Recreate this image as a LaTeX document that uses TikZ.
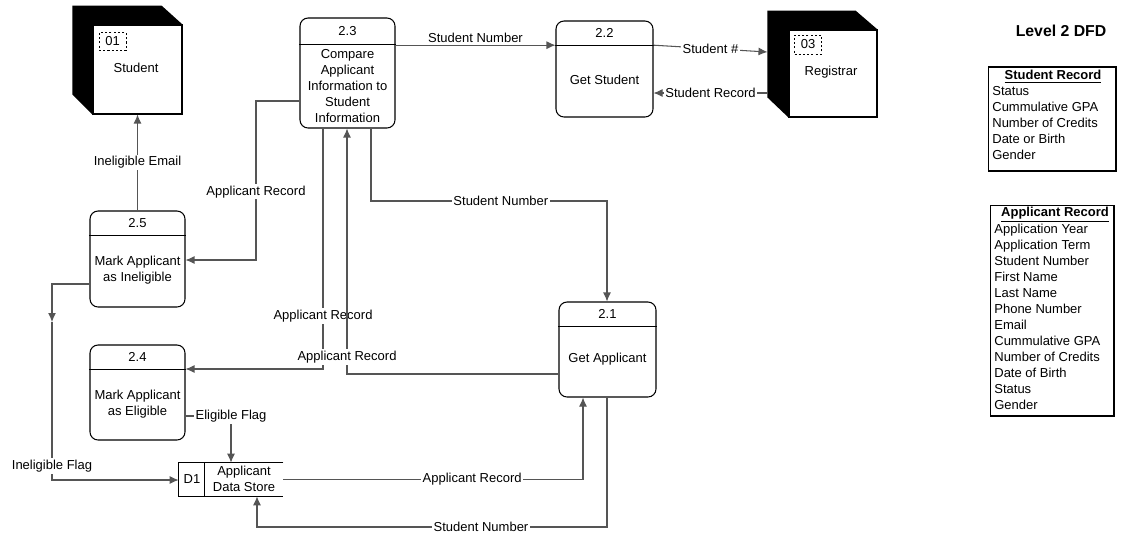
\documentclass[tikz,border=0pt]{standalone}
\usepackage{fontspec}
\setmainfont{Liberation Sans}
\usetikzlibrary{arrows.meta,positioning}
\definecolor{linegray}{RGB}{85,85,85}

\begin{document}
\begin{tikzpicture}[x=0.02cm, y=-0.02cm, >={Latex[length=1.8mm,width=1.6mm]},
	font=\fontsize{7.4}{9.07}\selectfont,
	proc/.style={draw, line width=0.6pt, rounded corners=0.16cm},
	num/.style={minimum height=0.48cm, inner sep=0pt},
	body/.style={align=center, inner sep=0pt},
	flow/.style={->, draw=linegray, line width=0.6pt},
	lbl/.style={fill=white, inner sep=1pt},
	ent/.style={draw, fill=white, line width=0.6pt},
	idbox/.style={draw, dash pattern=on 1.2pt off 1.2pt, line width=0.4pt, inner sep=0pt, minimum width=0.54cm, minimum height=0.35cm},
	legend/.style={draw, line width=0.6pt}]

\useasboundingbox (0,0) rectangle (1124,535);

% external entities
\node[ent, minimum width=1.78cm, minimum height=1.78cm] (stu) at (137.5,69.5) {};
\fill (stu.south west) -- ++(-20,-20) -- ++(0,-89) -- ++(89,0) -- (stu.north east) -- (stu.north west) -- cycle;
\node[idbox] (stuid) at (112.5,41.5) {01};
\node (stuname) at (136,68) {Student};

\node[ent, minimum width=1.76cm, minimum height=1.74cm] (reg) at (833,73.5) {};
\fill (reg.south west) -- ++(-21,-20) -- ++(0,-87) -- ++(88,0) -- (reg.north east) -- (reg.north west) -- cycle;
\coordinate (regback) at ([xshift=-0.42cm]reg.west);
\node[idbox, minimum height=0.38cm] (regid) at (808,44.5) {03};
\node (regname) at (831,72) {Registrar};

% processes
\node[proc, minimum width=1.9cm, minimum height=2.2cm] (p23) at (347.5,73) {};
\node[num, minimum height=0.52cm, below=0pt of p23.north] (p23n) {2.3};
\draw[line width=0.6pt] (p23.west |- p23n.south) -- (p23.east |- p23n.south);
\node[body] (p23t) at (347.5,86) {Compare\\Applicant\\Information to\\Student\\Information};

\node[proc, minimum width=1.94cm, minimum height=1.92cm] (p22) at (604.5,69) {};
\node[num, below=0pt of p22.north] (p22n) {2.2};
\draw[line width=0.6pt] (p22.west |- p22n.south) -- (p22.east |- p22n.south);
\node[body] (p22t) at (604.5,80) {Get Student};

\node[proc, minimum width=1.9cm, minimum height=1.92cm] (p25) at (137.5,259) {};
\node[num, below=0pt of p25.north] (p25n) {2.5};
\draw[line width=0.6pt] (p25.west |- p25n.south) -- (p25.east |- p25n.south);
\node[body] (p25t) at (137.5,270) {Mark Applicant\\as Ineligible};

\node[proc, minimum width=1.9cm, minimum height=1.9cm] (p24) at (137.5,392.5) {};
\node[num, below=0pt of p24.north] (p24n) {2.4};
\draw[line width=0.6pt] (p24.west |- p24n.south) -- (p24.east |- p24n.south);
\node[body] (p24t) at (137.5,404) {Mark Applicant\\as Eligible};

\node[proc, minimum width=1.94cm, minimum height=1.9cm] (p21) at (607.5,349.5) {};
\node[num, below=0pt of p21.north] (p21n) {2.1};
\draw[line width=0.6pt] (p21.west |- p21n.south) -- (p21.east |- p21n.south);
\node[body] (p21t) at (607.5,359) {Get Applicant};

% data store
\node[minimum width=2.08cm, minimum height=0.66cm, inner sep=0pt] (d1) at (231,479.5) {};
\draw[line width=0.6pt] (d1.north east) -- (d1.north west) -- (d1.south west) -- (d1.south east);
\draw[line width=0.6pt] ([xshift=0.52cm]d1.north west) -- ([xshift=0.52cm]d1.south west);
\node (d1id) at (192,479) {D1};
\node[body] (d1t) at (244,479) {Applicant\\Data Store};

% data flows
\draw[flow] (p23.east |- p22n.south) -- node[above, inner sep=1pt] (f1) {Student Number} (p22.west |- p22n.south);
\draw[flow] (p22.east |- p22n.south) -- node[lbl] (f2) {Student \#} (regback |- 0,52);
\draw[flow] (regback |- 0,93) -- node[lbl] (f3) {Student Record} (p22.east |- 0,93);
\draw[flow] (p23.west |- 0,101) -- (256,101) -- node[lbl, pos=0.57] (f4) {Applicant Record} (256,260) -- (p25.east |- 0,260);
\draw[flow] (p25.north) -- node[lbl] (f5) {Ineligible Email} (stu.south);
\draw[flow] (p25.west |- 0,284) -- (52,284) -- (52,322);
\draw[flow] (52,322) -- node[lbl, pos=0.91] (f6) {Ineligible Flag} (52,480) -- (d1.west |- 0,480);
\draw[flow] (p23.south -| 323,0) -- node[lbl, pos=0.78] (f7) {Applicant Record} (323,369) -- (p24.east |- 0,369);
\draw[flow] (p21.west |- 0,374) -- (347,374) -- node[lbl, pos=0.07] (f8) {Applicant Record} (p23.south -| 347,0);
\draw[flow] (p23.south -| 371,0) -- (371,201) -- node[lbl, pos=0.55] (f9) {Student Number} (607,201) -- (p21.north -| 607,0);
\draw[flow] (p24.east |- 0,416) -- node[lbl, pos=1] (f10) {Eligible Flag} (231,416) -- (d1.north);
\draw[flow] (d1.east) -- node[lbl, pos=0.63] (f11) {Applicant Record} (583,479.5) -- (p21.south -| 583,0);
\draw[flow] (p21.south -| 607,0) -- (607,527) -- node[lbl, pos=0.36] (f12) {Student Number} (257,527) -- (d1.south -| 257,0);

% title and data dictionary
\node[font=\fontsize{9}{11}\selectfont\bfseries] (title) at (1061,31) {Level 2 DFD};

\node[legend, minimum width=2.56cm, minimum height=2.08cm] (srbox) at (1052,119) {};
\node (srtitle) at (1053,77) {\textbf{\underline{Student Record}}};
\node[anchor=north west, align=left, inner sep=0pt] (srlist) at (992,86) {Status\\Cummulative GPA\\Number of Credits\\Date or Birth\\Gender};

\node[legend, minimum width=2.48cm, minimum height=4.22cm] (arbox) at (1052,310.5) {};
\node (artitle) at (1055,215) {\textbf{\underline{Applicant Record}}};
\node[anchor=north west, align=left, inner sep=0pt] (arlist) at (994,224) {Application Year\\Application Term\\Student Number\\First Name\\Last Name\\Phone Number\\Email\\Cummulative GPA\\Number of Credits\\Date of Birth\\Status\\Gender};

\end{tikzpicture}
\end{document}
